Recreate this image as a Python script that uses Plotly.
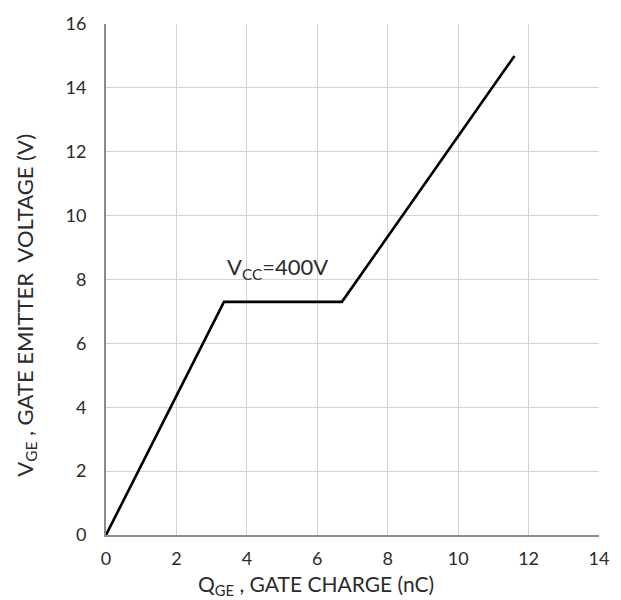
import plotly.graph_objects as go

# Gate charge characteristic (piecewise linear)
q_ge = [0, 3.35, 6.7, 11.6]     # gate charge, nC
v_ge = [0, 7.3, 7.3, 15.0]      # gate-emitter voltage, V

x_ticks = [0, 2, 4, 6, 8, 10, 12, 14]
y_ticks = [0, 2, 4, 6, 8, 10, 12, 14, 16]

x_title = "Q<sub>GE</sub> , GATE CHARGE (nC)"
y_title = "V<sub>GE</sub> , GATE EMITTER&nbsp; VOLTAGE (V)"
curve_label = "V<sub>CC</sub>=400V"

font_family = "Lato, 'Open Sans', sans-serif"
text_color = "#2b2b2b"

fig = go.Figure()
fig.add_trace(go.Scatter(
    x=q_ge, y=v_ge, mode="lines",
    line=dict(color="black", width=2.6),
    showlegend=False, hoverinfo="skip",
))

# Curve label above the Miller plateau
fig.add_annotation(
    x=4.87, y=8.35, text=curve_label, showarrow=False,
    font=dict(size=22, color=text_color, family=font_family),
)

# Axis titles
fig.add_annotation(
    x=0.4266, y=-0.097, xref="paper", yref="paper",
    xanchor="center", yanchor="middle",
    text=x_title, showarrow=False,
    font=dict(size=21, color=text_color, family=font_family),
)
fig.add_annotation(
    x=-0.163, y=0.45, xref="paper", yref="paper",
    xanchor="center", yanchor="middle", textangle=-90,
    text=y_title, showarrow=False,
    font=dict(size=22, color=text_color, family=font_family),
)

axis_common = dict(
    showgrid=True, gridcolor="#d4d4d4", gridwidth=1,
    showline=True, linecolor="#8c8c8c", linewidth=2,
    zeroline=False, ticks="",
    tickfont=dict(size=18, color=text_color, family=font_family),
)

fig.update_xaxes(range=[0, 14], tickvals=x_ticks, ticklabelstandoff=6, **axis_common)
fig.update_yaxes(range=[0, 16], tickvals=y_ticks, ticklabelstandoff=14, **axis_common)

fig.update_layout(
    width=621, height=600,
    margin=dict(l=106, r=18, t=15, b=65),
    paper_bgcolor="white", plot_bgcolor="white",
    font=dict(family=font_family),
)

fig.write_html("out.html")
